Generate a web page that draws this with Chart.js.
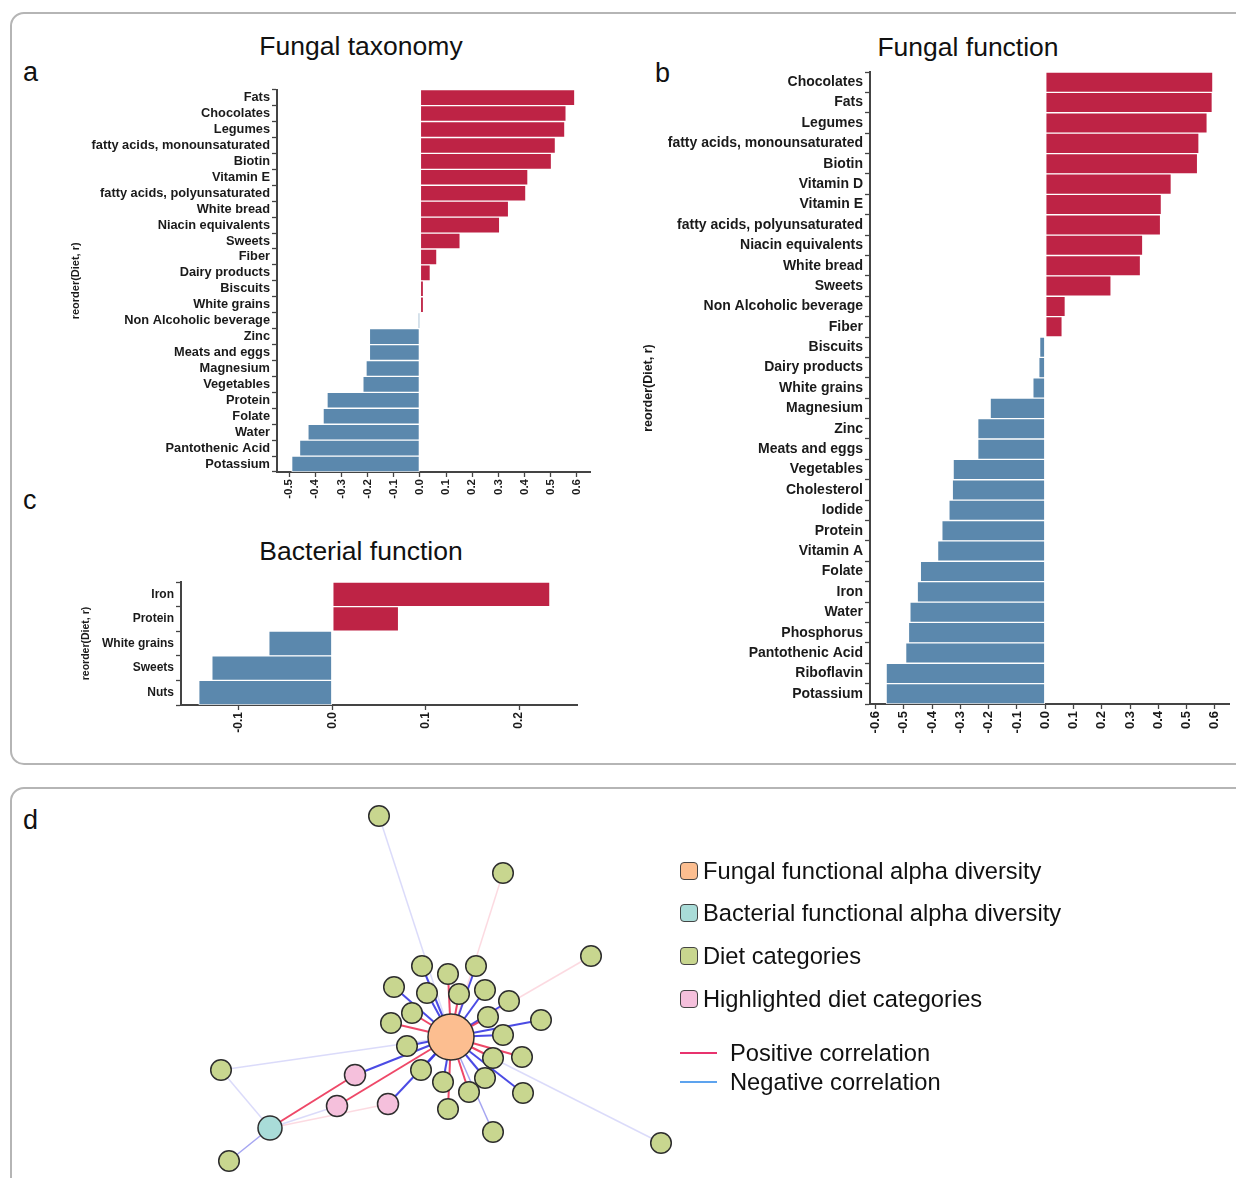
<!DOCTYPE html>
<html>
<head>
<meta charset="utf-8">
<script src="https://cdn.jsdelivr.net/npm/chart.js@4.4.0/dist/chart.umd.min.js"></script>
<style>
  body { margin: 0; background: #fff; width: 1236px; height: 1178px; overflow: hidden; position: relative;
         font-family: "Liberation Sans", Arial, sans-serif; color: #111; }
  .box { position: absolute; border: 2px solid #b5b5b5; border-radius: 14px; box-sizing: border-box; }
  .abs { position: absolute; }
  .letter { position: absolute; font-size: 27px; line-height: 27px; }
  .ttl { position: absolute; font-size: 26.5px; line-height: 26px; transform: translateX(-50%); white-space: nowrap; }
  .leg { position: absolute; left: 680px; font-size: 23.7px; line-height: 24px; display: flex; align-items: center; white-space: nowrap; }
  .sq { width: 16px; height: 16px; border: 1.5px solid #444; border-radius: 4px; margin-right: 5px; }
  .ln { width: 37px; height: 2px; margin-right: 13px; }
</style>
</head>
<body>
<div class="box" style="left:10px;top:12px;width:1250px;height:753px"></div>
<div class="box" style="left:10px;top:787px;width:1250px;height:430px"></div>

<div class="letter" style="left:23px;top:59px">a</div>
<div class="letter" style="left:655px;top:60px">b</div>
<div class="letter" style="left:23px;top:487px">c</div>
<div class="letter" style="left:23px;top:807px">d</div>

<div class="ttl" style="left:361px;top:33px">Fungal taxonomy</div>
<div class="ttl" style="left:968px;top:34px">Fungal function</div>
<div class="ttl" style="left:361px;top:538px">Bacterial function</div>

<canvas id="chartA" class="abs" width="540" height="432" style="left:60px;top:80px"></canvas>
<canvas id="chartB" class="abs" width="596" height="689" style="left:640px;top:60px"></canvas>
<canvas id="chartC" class="abs" width="520" height="175" style="left:70px;top:570px"></canvas>
<canvas id="chartD" class="abs" width="1224" height="389" style="left:12px;top:789px"></canvas>

<div class="leg" style="top:859px"><div class="sq" style="background:#fcbe90"></div>Fungal functional alpha diversity</div>
<div class="leg" style="top:901px"><div class="sq" style="background:#a9dcd8"></div>Bacterial functional alpha diversity</div>
<div class="leg" style="top:944px"><div class="sq" style="background:#c8d68f"></div>Diet categories</div>
<div class="leg" style="top:987px"><div class="sq" style="background:#f5c0dc"></div>Highlighted diet categories</div>
<div class="leg" style="top:1041px"><div class="ln" style="background:#e8336e"></div>Positive correlation</div>
<div class="leg" style="top:1070px"><div class="ln" style="background:#5da3ee"></div>Negative correlation</div>

<script>
// dados dos gráficos
const RED = "#be2345";
const BLUE = "#5b88ad";

const fungalTaxLabels = ["Fats", "Chocolates", "Legumes", "fatty acids, monounsaturated", "Biotin", "Vitamin E",
  "fatty acids, polyunsaturated", "White bread", "Niacin equivalents", "Sweets", "Fiber", "Dairy products",
  "Biscuits", "White grains", "Non Alcoholic beverage", "Zinc", "Meats and eggs", "Magnesium", "Vegetables",
  "Protein", "Folate", "Water", "Pantothenic Acid", "Potassium"];
const fungalTaxR = [0.592, 0.559, 0.554, 0.518, 0.503, 0.413, 0.405, 0.339, 0.305, 0.154, 0.065, 0.040,
  0.014, 0.014, -0.005, -0.193, -0.193, -0.206, -0.218, -0.355, -0.370, -0.428, -0.460, -0.490];
const fungalTaxTicks = [-0.5, -0.4, -0.3, -0.2, -0.1, 0, 0.1, 0.2, 0.3, 0.4, 0.5, 0.6];

const fungalFunLabels = ["Chocolates", "Fats", "Legumes", "fatty acids, monounsaturated", "Biotin", "Vitamin D",
  "Vitamin E", "fatty acids, polyunsaturated", "Niacin equivalents", "White bread", "Sweets",
  "Non Alcoholic beverage", "Fiber", "Biscuits", "Dairy products", "White grains", "Magnesium", "Zinc",
  "Meats and eggs", "Vegetables", "Cholesterol", "Iodide", "Protein", "Vitamin A", "Folate", "Iron", "Water",
  "Phosphorus", "Pantothenic Acid", "Riboflavin", "Potassium"];
const fungalFunR = [0.593, 0.591, 0.573, 0.544, 0.539, 0.446, 0.411, 0.408, 0.345, 0.337, 0.233, 0.071, 0.060,
  -0.020, -0.023, -0.044, -0.195, -0.239, -0.239, -0.326, -0.329, -0.341, -0.366, -0.381, -0.442, -0.453,
  -0.479, -0.484, -0.494, -0.563, -0.563];
const fungalFunTicks = [-0.6, -0.5, -0.4, -0.3, -0.2, -0.1, 0, 0.1, 0.2, 0.3, 0.4, 0.5, 0.6];

const bactFunLabels = ["Iron", "Protein", "White grains", "Sweets", "Nuts"];
const bactFunR = [0.233, 0.071, -0.068, -0.129, -0.143];
const bactFunTicks = [-0.1, 0, 0.1, 0.2];

// rede (posições do layout)
const fungalNode = [451, 1037];
const bactNode = [270, 1128];
const dietX = [379, 503, 591, 422, 448, 476, 394, 427, 459, 485, 509, 412, 488, 541, 391, 503, 407, 493, 522,
  421, 443, 485, 469, 523, 448, 493, 661, 221, 229];
const dietY = [816, 873, 956, 966, 974, 966, 987, 993, 994, 990, 1001, 1013, 1017, 1020, 1023, 1035, 1046, 1058,
  1057, 1070, 1082, 1078, 1092, 1093, 1109, 1132, 1143, 1070, 1161];
const highX = [355, 337, 388];
const highY = [1075, 1106, 1104];

// arestas: [origem, destino, sinal, forte?]  F = fungos, B = bactérias, dN = dieta, hN = destaque
const edges = [
  ["d0", "F", -1, 0], ["d1", "F", 1, 0], ["d2", "F", 1, 0], ["d3", "F", -1, 1], ["d4", "F", 1, 1],
  ["d5", "F", -1, 1], ["d6", "F", -1, 1], ["d7", "F", -1, 1], ["d8", "F", 1, 1], ["d9", "F", -1, 1],
  ["d10", "F", -1, 1], ["d11", "F", 1, 1], ["d12", "F", 1, 1], ["d13", "F", -1, 1], ["d14", "F", 1, 1],
  ["d15", "F", -1, 1], ["d16", "F", -1, 1], ["d17", "F", 1, 1], ["d18", "F", 1, 1], ["d19", "F", -1, 1],
  ["d20", "F", -1, 1], ["d21", "F", -1, 1], ["d22", "F", 1, 1], ["d23", "F", -1, 1], ["d24", "F", 1, 1],
  ["d25", "F", -1, 0.5], ["d26", "F", -1, 0], ["d27", "F", -1, 0], ["d27", "B", -1, 0], ["d28", "B", -1, 0.3],
  ["h0", "F", -1, 1], ["h0", "B", 1, 1], ["h1", "F", 1, 1], ["h1", "B", -1, 0], ["h2", "F", -1, 1], ["h2", "B", 1, 0]
];

function pos(id) {
  if (id == "F") return { x: fungalNode[0], y: fungalNode[1] };
  if (id == "B") return { x: bactNode[0], y: bactNode[1] };
  const i = parseInt(id.slice(1));
  if (id[0] == "d") return { x: dietX[i], y: dietY[i] };
  return { x: highX[i], y: highY[i] };
}

function edgeColor(sign, strong) {
  const a = strong >= 1 ? 0.9 : (strong > 0 ? 0.45 : 0.18);
  return sign > 0 ? "rgba(236,52,88," + a + ")" : "rgba(55,55,225," + a + ")";
}

const tickFont = (size) => ({ family: "'Liberation Sans', Arial, sans-serif", size, weight: "bold" });

function barChart(id, labels, values, ticks, o) {
  return new Chart(document.getElementById(id), {
    type: "bar",
    data: {
      labels,
      datasets: [{
        data: values,
        backgroundColor: values.map(v => v >= 0 ? RED : BLUE),
        borderColor: "rgba(255,255,255,0.85)",
        borderWidth: 1,
        borderSkipped: false,
        barPercentage: 1,
        categoryPercentage: 1
      }]
    },
    options: {
      indexAxis: "y",
      responsive: false,
      animation: false,
      layout: { padding: o.pad },
      plugins: { legend: { display: false }, tooltip: { enabled: false } },
      scales: {
        x: {
          min: o.min, max: o.max,
          afterBuildTicks: s => { s.ticks = ticks.map(v => ({ value: v })); },
          afterFit: s => { s.height = o.xh; },
          ticks: { callback: v => Number(v).toFixed(1), minRotation: 90, maxRotation: 90, autoSkip: false,
                   font: tickFont(o.xf), color: "#1a1a1a", padding: 2 },
          grid: { drawOnChartArea: false, drawTicks: true, tickLength: 5, tickColor: "#444", tickWidth: 1.3 },
          border: { color: "#444", width: 2 }
        },
        y: {
          afterFit: s => { s.width = o.yw; },
          ticks: { font: tickFont(o.yf), color: "#1a1a1a", padding: 2, autoSkip: false },
          grid: { drawOnChartArea: false, drawTicks: true, tickLength: 5, tickColor: "#444", tickWidth: 1.3 },
          border: { color: "#444", width: 2 },
          title: { display: true, text: "reorder(Diet, r)", font: tickFont(o.tf), color: "#1a1a1a",
                   padding: { top: o.tp, bottom: 0 } }
        }
      }
    }
  });
}

barChart("chartA", fungalTaxLabels, fungalTaxR, fungalTaxTicks,
  { min: -0.546, max: 0.65, pad: { top: 9, right: 10, left: 0, bottom: 0 }, yw: 217, xh: 40, xf: 11.5, yf: 12.8, tf: 11, tp: 9 });
barChart("chartB", fungalFunLabels, fungalFunR, fungalFunTicks,
  { min: -0.62, max: 0.65, pad: { top: 12, right: 7, left: 0, bottom: 0 }, yw: 230, xh: 45, xf: 13, yf: 14, tf: 12.5, tp: 1 });
barChart("chartC", bactFunLabels, bactFunR, bactFunTicks,
  { min: -0.162, max: 0.262, pad: { top: 12, right: 13, left: 0, bottom: 0 }, yw: 111, xh: 40, xf: 12, yf: 12, tf: 10.5, tp: 10 });

// painel d: rede
const edgeSets = edges.map(e => ({
  data: [pos(e[0]), pos(e[1])],
  showLine: true,
  pointRadius: 0,
  borderColor: edgeColor(e[2], e[3]),
  borderWidth: e[3] >= 1 ? 2 : 1.5,
  order: 2
}));

const nodeSets = [
  { data: dietX.map((x, i) => ({ x, y: dietY[i] })), pointRadius: 10.3, backgroundColor: "#c8d68f" },
  { data: highX.map((x, i) => ({ x, y: highY[i] })), pointRadius: 10.5, backgroundColor: "#f5c0dc" },
  { data: [pos("B")], pointRadius: 12, backgroundColor: "#a9dcd8" },
  { data: [pos("F")], pointRadius: 23, backgroundColor: "#fcbe90" }
].map(d => Object.assign(d, { borderColor: "#2e2e2e", borderWidth: 1.5, pointHoverRadius: d.pointRadius, order: 1 }));

new Chart(document.getElementById("chartD"), {
  type: "scatter",
  data: { datasets: nodeSets.concat(edgeSets) },
  options: {
    responsive: false,
    animation: false,
    layout: { padding: 0, autoPadding: false },
    plugins: { legend: { display: false }, tooltip: { enabled: false } },
    scales: {
      x: { type: "linear", display: false, min: 12, max: 1236 },
      y: { type: "linear", display: false, min: 789, max: 1178, reverse: true }
    }
  }
});
</script>
</body>
</html>
